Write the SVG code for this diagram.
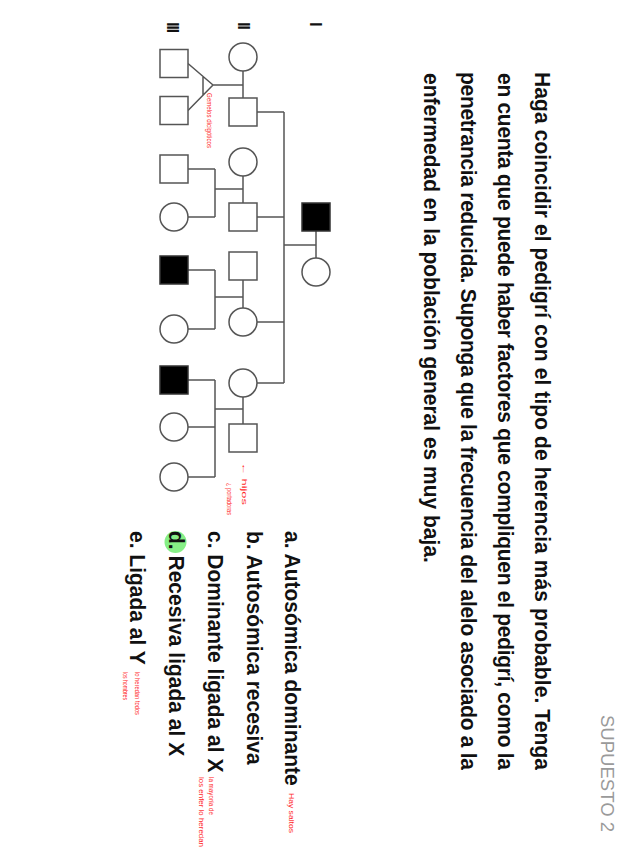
<svg xmlns="http://www.w3.org/2000/svg" width="636" height="848" viewBox="0 0 636 848">
<style>
.n{fill:#fff;stroke:#555;stroke-width:1.5}
.a{fill:#000;stroke:#333;stroke-width:1.5}
.c{fill:none;stroke:#555;stroke-width:1.5}
.q{font-family:"Liberation Sans",Arial,sans-serif;font-weight:bold;font-size:21px;fill:#111}
.r{font-family:"Liberation Sans",Arial,sans-serif;font-size:8px;fill:#ff2a2a}
.g{font-family:"Liberation Sans",Arial,sans-serif;font-weight:bold;font-size:17px;fill:#111;letter-spacing:-1.5px}
</style>
<rect width="636" height="848" fill="#fff"/>
<text transform="translate(601,715) rotate(90)" font-family="Liberation Sans,Arial,sans-serif" font-size="18.5" fill="#9a9a9a" textLength="117" lengthAdjust="spacingAndGlyphs">SUPUESTO 2</text>
<g id="question">
<text class="q" transform="translate(535,72) rotate(90) scale(1,1.08)" textLength="698" lengthAdjust="spacing">Haga coincidir el pedigrí con el tipo de herencia más probable. Tenga</text>
<text class="q" transform="translate(498,73) rotate(90) scale(1,1.08)" textLength="697" lengthAdjust="spacing">en cuenta que puede haber factores que compliquen el pedigrí, como la</text>
<text class="q" transform="translate(461,72) rotate(90) scale(1,1.08)" textLength="698" lengthAdjust="spacing">penetrancia reducida. Suponga que la frecuencia del alelo asociado a la</text>
<text class="q" transform="translate(424,73) rotate(90) scale(1,1.08)">enfermedad en la población general es muy baja.</text>
</g>
<g id="options">
<circle cx="175.5" cy="542" r="11" fill="#86ef86"/>
<text class="q" transform="translate(285,531) rotate(90) scale(1,1.08)">a. Autosómica dominante</text>
<text class="q" transform="translate(247,531) rotate(90) scale(1,1.08)">b. Autosómica recesiva</text>
<text class="q" transform="translate(208,531) rotate(90) scale(1,1.08)">c. Dominante ligada al X</text>
<text class="q" transform="translate(169,531) rotate(90) scale(1,1.08)">d. Recesiva ligada al X</text>
<text class="q" transform="translate(130,531) rotate(90) scale(1,1.08)">e. Ligada al Y</text>
</g>
<g id="annotations">
<text class="r" transform="translate(207,93) rotate(90)" textLength="55" lengthAdjust="spacingAndGlyphs">Gemelos dicigóticos</text>
<text class="r" transform="translate(242,462) rotate(90)" textLength="43" lengthAdjust="spacingAndGlyphs">← hijos</text>
<text class="r" transform="translate(227,483) rotate(90)" textLength="32" lengthAdjust="spacingAndGlyphs">¿ portadoras</text>
<text class="r" transform="translate(289,793) rotate(90)" textLength="40" lengthAdjust="spacingAndGlyphs">Hay saltos</text>
<text class="r" transform="translate(209,777) rotate(90)" textLength="38" lengthAdjust="spacingAndGlyphs">la mayoría de</text>
<text class="r" transform="translate(199,777) rotate(90)" textLength="70" lengthAdjust="spacingAndGlyphs">los enfer lo heredan</text>
<text class="r" transform="translate(135,672) rotate(90)" textLength="43" lengthAdjust="spacingAndGlyphs">lo heredan todos</text>
<text class="r" transform="translate(123,672) rotate(90)" textLength="28" lengthAdjust="spacingAndGlyphs">los hombres</text>
</g>
<g id="generations">
<text class="g" transform="translate(310,22) rotate(90)">I</text>
<text class="g" transform="translate(238,22) rotate(90)">II</text>
<text class="g" transform="translate(167,22) rotate(90)">III</text>
</g>
<g id="connectors">
<path class="c" d="M316 231V258M316 245H284M284 112V383M257 112H284M257 217H284M257 322H284M257 383H284"/>
<path class="c" d="M243 71V98M243 85H213M213 85L188 63.5M213 85L188 110.5M203 77V95"/>
<path class="c" d="M243 176V203M243 189H215M215 169V217M188 169H215M188 217H215"/>
<path class="c" d="M243 280V308M243 297H215M215 270V329M188 270H215M188 329H215"/>
<path class="c" d="M243 397V424M243 409H215M215 380V477M188 380H215M188 427H215M188 477H215"/>
</g>
<g id="I-1"><rect class="a" x="302" y="203" width="28" height="28"/></g>
<g id="I-2"><circle class="n" cx="316" cy="272" r="14"/></g>
<g id="II-1"><circle class="n" cx="243" cy="57" r="14"/></g>
<g id="II-2"><rect class="n" x="229" y="98" width="28" height="28"/></g>
<g id="II-3"><circle class="n" cx="243" cy="162" r="14"/></g>
<g id="II-4"><rect class="n" x="229" y="203" width="28" height="28"/></g>
<g id="II-5"><rect class="n" x="229" y="252" width="28" height="28"/></g>
<g id="II-6"><circle class="n" cx="243" cy="322" r="14"/></g>
<g id="II-7"><circle class="n" cx="243" cy="383" r="14"/></g>
<g id="II-8"><rect class="n" x="229" y="424" width="28" height="28"/></g>
<g id="III-1"><rect class="n" x="160" y="49.5" width="28" height="28"/></g>
<g id="III-2"><rect class="n" x="160" y="96.5" width="28" height="28"/></g>
<g id="III-3"><rect class="n" x="160" y="155" width="28" height="28"/></g>
<g id="III-4"><circle class="n" cx="174" cy="217" r="14"/></g>
<g id="III-5"><rect class="a" x="160" y="256" width="28" height="28"/></g>
<g id="III-6"><circle class="n" cx="174" cy="329" r="14"/></g>
<g id="III-7"><rect class="a" x="160" y="366" width="28" height="28"/></g>
<g id="III-8"><circle class="n" cx="174" cy="427" r="14"/></g>
<g id="III-9"><circle class="n" cx="174" cy="477" r="14"/></g>
</svg>
